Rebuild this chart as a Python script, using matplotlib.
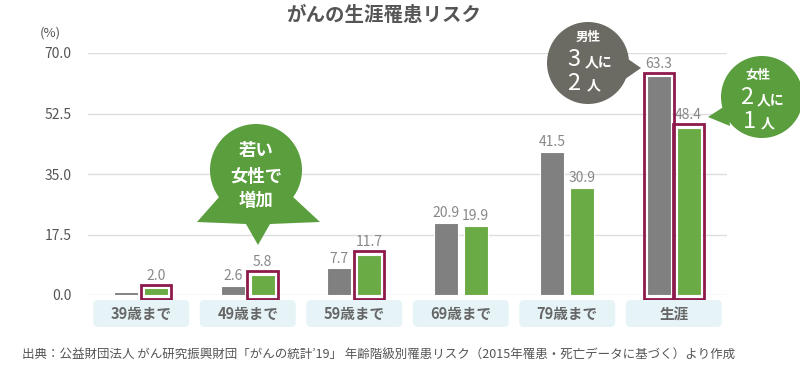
import matplotlib
matplotlib.use('Agg')
import matplotlib.pyplot as plt
from matplotlib.patches import Circle, Polygon, Rectangle, FancyBboxPatch
import numpy as np

plt.rcParams['font.family'] = ['Noto Sans CJK JP', 'DejaVu Sans']

# データ
categories = ['39歳まで', '49歳まで', '59歳まで', '69歳まで', '79歳まで', '生涯']
men = [1.0, 2.6, 7.7, 20.9, 41.5, 63.3]
women = [2.0, 5.8, 11.7, 19.9, 30.9, 48.4]
men_labels = ['', '2.6', '7.7', '20.9', '41.5', '63.3']
women_labels = ['2.0', '5.8', '11.7', '19.9', '30.9', '48.4']
yticks = [0.0, 17.5, 35.0, 52.5, 70.0]
hl_women = [True, True, True, False, False, True]
hl_men = [False, False, False, False, False, True]

# 色
GRAY = '#808080'
GREEN = '#6aab45'
CRIMSON = '#8e1a4c'
TXT = '#555555'

W, H = 800, 372
fig = plt.figure(figsize=(W / 100, H / 100), dpi=100)
ax = fig.add_axes([88 / W, (H - 295) / H, (727 - 88) / W, (295 - 53) / H])

x = np.arange(len(categories))
bw = 0.225
off = 0.14
ax.bar(x - off, men, bw, color=GRAY, edgecolor='white', linewidth=0.8, zorder=3)
ax.bar(x + off, women, bw, color=GREEN, edgecolor='white', linewidth=0.8, zorder=3)

ax.set_xlim(-0.5, len(categories) - 0.5)
ax.set_ylim(0, 70)
ax.set_yticks(yticks)
ax.set_yticklabels(['%.1f' % v for v in yticks], color=TXT, fontsize=10)
ax.tick_params(axis='y', length=0, pad=12)
ax.set_xticks([])
ax.grid(axis='y', color='#dddddd', linewidth=1, zorder=0)
for s in ax.spines.values():
    s.set_visible(False)

# 値ラベル
for i in range(len(categories)):
    if men_labels[i]:
        ax.annotate(men_labels[i], (x[i] - off, men[i]), xytext=(0, 2 + (2 if hl_men[i] else 0)),
                    textcoords='offset points', ha='center', va='bottom', color='#888888', fontsize=10)
    ax.annotate(women_labels[i], (x[i] + off, women[i]), xytext=(0, 2 + (2 if hl_women[i] else 0)),
                textcoords='offset points', ha='center', va='bottom', color='#888888', fontsize=10)

# 強調の枠
padx = 0.03
for i in range(len(categories)):
    for flag, xc, v in ((hl_men[i], x[i] - off, men[i]), (hl_women[i], x[i] + off, women[i])):
        if flag:
            ax.add_patch(Rectangle((xc - bw / 2 - padx, -1.2), bw + 2 * padx, v + 2.2,
                                   fill=False, edgecolor=CRIMSON, linewidth=2, zorder=4, clip_on=False))

# オーバーレイ (ピクセル座標)
ov = fig.add_axes([0, 0, 1, 1], zorder=5)
ov.set_xlim(0, W)
ov.set_ylim(H, 0)
ov.axis('off')
ov.patch.set_alpha(0)

ov.text(384, 15, 'がんの生涯罹患リスク', ha='center', va='center', fontsize=14,
        fontweight='bold', color=TXT)
ov.text(40, 33, '(%)', ha='left', va='center', fontsize=9.5, color=TXT)

# カテゴリの箱
for i, c in enumerate(categories):
    px = ax.transData.transform((x[i], 0))[0]
    ov.add_patch(FancyBboxPatch((px - 48, 300), 96, 27, boxstyle='round,pad=0,rounding_size=5',
                                facecolor='#e6f4f8', edgecolor='none'))
    ov.text(px, 314, c, ha='center', va='center', fontsize=10.5, fontweight='bold', color='#666666')

# 吹き出し: 若い女性で増加
BGREEN = '#5a9e3e'
ov.add_patch(Circle((256, 170), 46, facecolor=BGREEN, edgecolor='none'))
ov.add_patch(Polygon([(220, 196), (197, 222), (246, 224), (258, 245), (270, 224), (320, 222), (292, 196)],
                     closed=True, facecolor=BGREEN, edgecolor='none'))
ov.text(256, 151, '若い', ha='center', va='center', color='white', fontsize=12.5, fontweight='bold')
ov.text(256, 177, '女性で', ha='center', va='center', color='white', fontsize=12.5, fontweight='bold')
ov.text(256, 201, '増加', ha='center', va='center', color='white', fontsize=12.5, fontweight='bold')

# 吹き出し: 男性
BGRAY = '#6c6b63'
ov.add_patch(Circle((588, 63), 41, facecolor=BGRAY, edgecolor='none'))
ov.add_patch(Polygon([(618, 52), (641, 68), (618, 84)], closed=True, facecolor=BGRAY, edgecolor='none'))
ov.text(588, 37, '男性', ha='center', va='center', color='white', fontsize=9, fontweight='bold')
ov.text(574, 60, '3', ha='center', va='center', color='white', fontsize=17)
ov.text(599, 62, '人に', ha='center', va='center', color='white', fontsize=10, fontweight='bold')
ov.text(574, 83, '2', ha='center', va='center', color='white', fontsize=17)
ov.text(594, 85, '人', ha='center', va='center', color='white', fontsize=10, fontweight='bold')

# 吹き出し: 女性
ov.add_patch(Circle((762, 97), 41, facecolor=BGREEN, edgecolor='none'))
ov.add_patch(Polygon([(728, 104), (708, 117), (730, 126)], closed=True, facecolor=BGREEN, edgecolor='none'))
ov.text(758, 76, '女性', ha='center', va='center', color='white', fontsize=9, fontweight='bold')
ov.text(747, 98, '2', ha='center', va='center', color='white', fontsize=17)
ov.text(771, 100, '人に', ha='center', va='center', color='white', fontsize=10, fontweight='bold')
ov.text(749, 121, '1', ha='center', va='center', color='white', fontsize=17)
ov.text(768, 123, '人', ha='center', va='center', color='white', fontsize=10, fontweight='bold')

# 出典
ov.text(22, 354, '出典：公益財団法人 がん研究振興財団「がんの統計\u201919」 年齢階級別罹患リスク（2015年罹患・死亡データに基づく）より作成',
        ha='left', va='center', fontsize=9, color=TXT)

fig.savefig('out.png', dpi=100)
